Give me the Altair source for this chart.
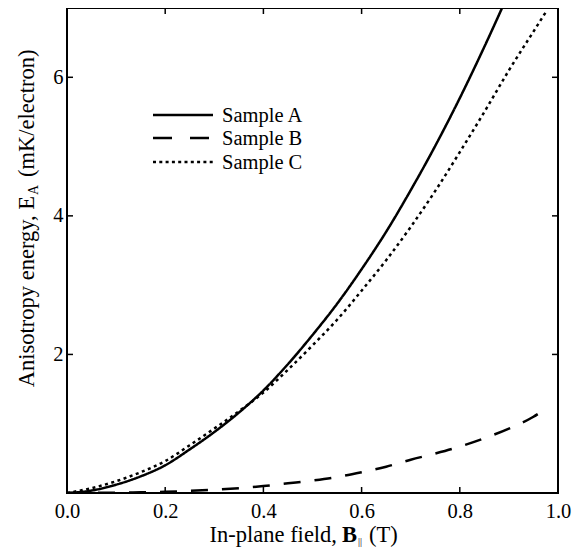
import altair as alt
import pandas as pd

# ---- data ----
series_names = ["Sample A", "Sample B", "Sample C"]

a_x = [0.0, 0.05, 0.10, 0.15, 0.20, 0.25, 0.30, 0.35, 0.40, 0.45, 0.50, 0.55, 0.60, 0.65, 0.70, 0.75, 0.80, 0.85, 0.90]
a_y = [0.0, 0.035, 0.12, 0.24, 0.40, 0.63, 0.88, 1.16, 1.48, 1.86, 2.28, 2.73, 3.23, 3.77, 4.37, 5.01, 5.70, 6.44, 7.22]

b_x = [0.0, 0.10, 0.15, 0.20, 0.25, 0.30, 0.35, 0.40, 0.45, 0.50, 0.55, 0.60, 0.65, 0.70, 0.75, 0.80, 0.85, 0.90, 0.95, 0.98]
b_y = [0.0, 0.005, 0.01, 0.017, 0.03, 0.048, 0.07, 0.10, 0.14, 0.18, 0.23, 0.30, 0.38, 0.48, 0.57, 0.67, 0.79, 0.93, 1.10, 1.24]

c_x = [0.0, 0.05, 0.10, 0.15, 0.20, 0.25, 0.30, 0.35, 0.40, 0.45, 0.50, 0.55, 0.60, 0.65, 0.70, 0.75, 0.80, 0.85, 0.90, 0.95, 0.977]
c_y = [0.0, 0.07, 0.17, 0.30, 0.46, 0.69, 0.93, 1.18, 1.45, 1.78, 2.13, 2.50, 2.92, 3.36, 3.84, 4.36, 4.92, 5.50, 6.10, 6.66, 6.96]

x_ticks = [0.0, 0.2, 0.4, 0.6, 0.8, 1.0]
y_ticks = [2, 4, 6]
x_inner_ticks = [0.2, 0.4, 0.6, 0.8]

x_title_parts = ["In-plane field,", "B", "||", "(T)"]
y_title_parts = ["Anisotropy energy, E", "A", "(mK/electron)"]

rows = []
for name, xs, ys in zip(series_names, [a_x, b_x, c_x], [a_y, b_y, c_y]):
    for xv, yv in zip(xs, ys):
        rows.append({"series": name, "x": xv, "y": yv})
df = pd.DataFrame(rows)

W, H = 491, 485
FONT = "Liberation Serif"
FS = 20.5      # tick labels / legend
TFS = 22.5     # axis titles
TL = 6         # tick length
dashes = [[1, 0], [17, 14], [3, 3.5]]

xscale = alt.Scale(domain=[0, 1], nice=False, zero=False)
yscale = alt.Scale(domain=[0, 7], nice=False, zero=False)

lines = alt.Chart(df).mark_line(
    strokeWidth=2.5, color="black", clip=True, interpolate="monotone", strokeCap="butt"
).encode(
    x=alt.X("x:Q", scale=xscale, axis=alt.Axis(
        values=x_ticks, format=".1f", tickSize=0, domain=False, grid=False,
        labelFont=FONT, labelFontSize=FS, labelPadding=8, labelColor="black",
        labelFlush=False, labelOverlap=False, title=None)),
    y=alt.Y("y:Q", scale=yscale, axis=alt.Axis(
        values=y_ticks, format="d", tickSize=0, domain=False, grid=False,
        labelFont=FONT, labelFontSize=FS, labelPadding=4, labelColor="black",
        labelOverlap=False, title=None)),
    strokeDash=alt.StrokeDash("series:N", scale=alt.Scale(domain=series_names, range=dashes),
                              legend=None),
)

xt = pd.DataFrame({"v": x_inner_ticks})
yt = pd.DataFrame({"v": y_ticks})

bottom_ticks = alt.Chart(xt).mark_rule(color="black", strokeWidth=1.5).encode(
    x=alt.X("v:Q", scale=xscale), y=alt.value(H), y2=alt.value(H - TL))
top_ticks = alt.Chart(xt).mark_rule(color="black", strokeWidth=1.5).encode(
    x=alt.X("v:Q", scale=xscale), y=alt.value(0), y2=alt.value(TL))
left_ticks = alt.Chart(yt).mark_rule(color="black", strokeWidth=1.5).encode(
    y=alt.Y("v:Q", scale=yscale), x=alt.value(0), x2=alt.value(TL))
right_ticks = alt.Chart(yt).mark_rule(color="black", strokeWidth=1.5).encode(
    y=alt.Y("v:Q", scale=yscale), x=alt.value(W), x2=alt.value(W - TL))

one = pd.DataFrame({"a": [0]})

def txt(s, x, y, size=FS, align="left", bold=False, angle=0, baseline="alphabetic"):
    return alt.Chart(one).mark_text(
        font=FONT, fontSize=size, align=align, baseline=baseline, angle=angle,
        fontWeight="bold" if bold else "normal", color="black"
    ).encode(x=alt.value(x), y=alt.value(y), text=alt.value(s))

# legend (manual, to match the compact original)
legend_rows = [107, 130, 154]
legend_dash = [[1, 0], [19, 18], [3, 3.3]]
legend_layers = []
for name, ly, dsh in zip(series_names, legend_rows, legend_dash):
    legend_layers.append(alt.Chart(one).mark_rule(
        color="black", strokeWidth=2.5, strokeDash=dsh, strokeCap="butt"
    ).encode(x=alt.value(86), x2=alt.value(146), y=alt.value(ly)))
    legend_layers.append(txt(name, 155, ly + 7))

# x title pieces
xt1 = txt(x_title_parts[0], 270, 534, size=TFS, align="right")
xt2 = txt(x_title_parts[1], 275, 534, size=TFS, bold=True)
xt3 = txt(x_title_parts[2], 291, 537, size=10)
xt4 = txt(x_title_parts[3], 302, 534, size=TFS)

# y title pieces (rotated)
yt1 = txt(y_title_parts[0], -33, 188, size=TFS, align="right", angle=270)
yt2 = txt(y_title_parts[1], -29, 187, size=14, align="left", angle=270)
yt3 = txt(y_title_parts[2], -33, 169, size=TFS, align="left", angle=270)

chart = alt.layer(
    lines, bottom_ticks, top_ticks, left_ticks, right_ticks,
    *legend_layers,
    xt1, xt2, xt3, xt4, yt1, yt2, yt3
).properties(
    width=W, height=H,
    autosize=alt.AutoSizeParams(type="none"),
    padding={"left": 59, "top": 0, "right": 20, "bottom": 55},
    background="white",
).configure_view(stroke="black", strokeWidth=2)

chart.save("out.html", embed_options={"renderer": "svg", "actions": False})
